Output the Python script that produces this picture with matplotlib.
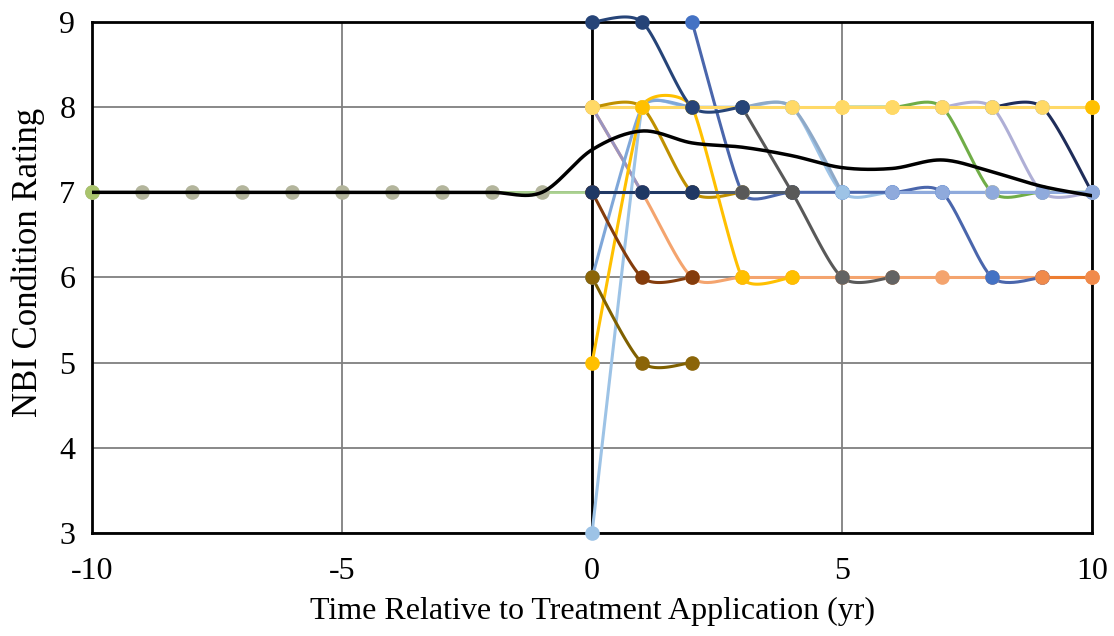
import numpy as np
import matplotlib
matplotlib.use("Agg")
import matplotlib.pyplot as plt

plt.rcParams['font.family'] = ['Liberation Serif', 'DejaVu Serif']
plt.rcParams['axes.unicode_minus'] = False

# pre-treatment history (all bridges at 7)
pre_x = [-10, -9, -8, -7, -6, -5, -4, -3, -2, -1, 0]
pre_y = [7, 7, 7, 7, 7, 7, 7, 7, 7, 7, 7]

# average curve (black)
avg_x = [-10, -9, -8, -7, -6, -5, -4, -3, -2, -1, 0, 1, 2, 3, 4, 5, 6, 7, 8, 9, 10]
avg_y = [7, 7, 7, 7, 7, 7, 7, 7, 7, 7, 7.5, 7.72, 7.58, 7.53, 7.43, 7.29, 7.28, 7.38, 7.24, 7.07, 6.96]

# individual post-treatment histories: (x, y, line color, marker color)
series = [
    ([0, 1, 2, 3, 4, 5, 6, 7, 8, 9, 10], [8, 7, 6, 6, 6, 6, 6, 6, 6, 6, 6], '#F4A46E', '#F4A46E'),
    ([0, 1], [8, 7], '#9A94C0', '#9A94C0'),
    ([0, 1, 2, 3, 4, 5, 6, 7, 8, 9, 10], [3, 8, 8, 8, 8, 7, 7, 7, 7, 7, 7], '#9DC3E6', '#9DC3E6'),
    ([0, 1, 2], [6, 8, 8], '#7FA7D9', '#7FA7D9'),
    ([2, 3, 4, 5, 6, 7, 8, 9], [9, 7, 7, 7, 7, 7, 6, 6], '#4A66AC', '#4472C4'),
    ([5, 6, 7, 8, 9, 10], [8, 8, 8, 7, 7, 7], '#70AD47', '#FFD966'),
    ([7, 8, 9, 10], [8, 8, 7, 7], '#AFAFD6', '#8FAADC'),
    ([8, 9, 10], [8, 8, 7], '#1F2D5A', '#8FAADC'),
    ([6, 7, 8, 9, 10], [7, 7, 7, 7, 7], '#8FAADC', '#8FAADC'),
    ([3, 4, 5], [8, 8, 7], '#8EA9C8', '#9DC3E6'),
    ([0, 1, 2, 3, 4, 5, 6, 7, 8, 9, 10], [8, 8, 8, 8, 8, 8, 8, 8, 8, 8, 8], '#FFD966', '#FFD966'),
    ([0, 1, 2, 3], [8, 8, 7, 7], '#BF9000', '#FFD966'),
    ([0, 1, 2, 3, 4], [5, 8, 8, 6, 6], '#FFC000', '#FFC000'),
    ([3, 4, 5, 6], [8, 7, 6, 6], '#595959', '#636363'),
    ([2, 3, 4], [7, 7, 7], '#4D5B6E', '#595959'),
    ([0, 1, 2], [7, 6, 6], '#843C0C', '#843C0C'),
    ([0, 1, 2], [6, 5, 5], '#7F6000', '#8B6508'),
    ([0, 1, 2, 3], [9, 9, 8, 8], '#264478', '#264478'),
    ([0, 1, 2], [7, 7, 7], '#203864', '#203864'),
    ([10], [8], '#FFC000', '#FFC000'),
    ([9, 10], [6, 6], '#ED7D31', '#F08A4B'),
]

# pixel scale of the plot area (for spreadsheet-like smoothing in screen space)
SX, SY = 50.0, 85.17


def smooth(x, y, n=30):
    x = np.asarray(x, float) * SX
    y = np.asarray(y, float) * SY
    if len(x) < 3:
        return x / SX, y / SY
    P = np.column_stack([x, y])
    m = len(P)
    tang = []
    for i in range(m):
        a = P[max(i - 1, 0)]
        b = P[min(i + 1, m - 1)]
        t = (b - a) / 6.0
        segs = []
        if i > 0:
            segs.append(np.linalg.norm(P[i] - P[i - 1]))
        if i < m - 1:
            segs.append(np.linalg.norm(P[i + 1] - P[i]))
        cap = 0.35 * min(segs)
        L = np.linalg.norm(t)
        if L > cap and L > 0:
            t = t * cap / L
        tang.append(t)
    tt = np.linspace(0, 1, n)[:, None]
    out = []
    for i in range(m - 1):
        p0 = P[i]
        p1 = P[i] + tang[i]
        p2 = P[i + 1] - tang[i + 1]
        p3 = P[i + 1]
        seg = ((1 - tt)**3) * p0 + 3 * ((1 - tt)**2) * tt * p1 + 3 * (1 - tt) * tt**2 * p2 + tt**3 * p3
        out.append(seg)
    out = np.vstack(out)
    return out[:, 0] / SX, out[:, 1] / SY


fig = plt.figure(figsize=(11.14, 6.36), dpi=100)
ax = fig.add_axes([0.0826, 0.162, 0.8977, 0.8034])

ax.set_xlim(-10, 10)
ax.set_ylim(3, 9)
ax.set_xticks([-10, -5, 0, 5, 10])
ax.set_yticks([3, 4, 5, 6, 7, 8, 9])
ax.grid(True, color='#7f7f7f', lw=1.3)
ax.set_axisbelow(True)
for s in ax.spines.values():
    s.set_color('black')
    s.set_linewidth(2)
ax.axvline(0, color='black', lw=2, zorder=1)
ax.tick_params(length=0, labelsize=23)
ax.tick_params(axis='x', pad=17)
ax.tick_params(axis='y', pad=12)

sx, sy = smooth(pre_x, pre_y)
ax.plot(sx, sy, color='#A9D18E', lw=2, zorder=2, clip_on=False)
ax.plot(pre_x[:-1], pre_y[:-1], 'o', color='#B3B59C', ms=9.5, zorder=3, clip_on=False)
ax.plot(pre_x[0], pre_y[0], 'o', color='#A9C46C', ms=9.5, zorder=3, clip_on=False)

for i, (x, y, lc, mc) in enumerate(series):
    sx, sy = smooth(x, y)
    ax.plot(sx, sy, color=lc, lw=2.2, zorder=4 + i * 0.01, clip_on=False)
    ax.plot(x, y, 'o', color=mc, ms=9.5, zorder=5 + i * 0.01, clip_on=False)

sx, sy = smooth(avg_x, avg_y)
ax.plot(sx, sy, color='black', lw=2.5, zorder=7)

ax.set_xlabel('Time Relative to Treatment Application (yr)', fontsize=23, labelpad=8)
ax.set_ylabel('NBI Condition Rating', fontsize=25)
ax.yaxis.set_label_coords(-0.047, 0.53)

fig.savefig('out.png', dpi=100)
